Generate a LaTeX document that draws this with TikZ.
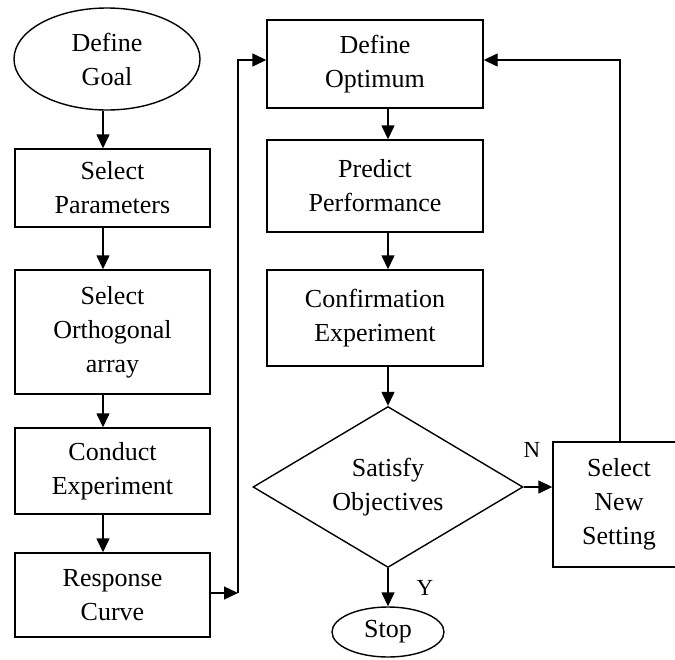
\documentclass[tikz,border=0pt]{standalone}
\usepackage{fontspec}
\setmainfont{Liberation Serif}
\usetikzlibrary{shapes.geometric,arrows.meta,calc}
\begin{document}
\begin{tikzpicture}[x=1pt,y=-1pt,
  every node/.style={font=\fontsize{26}{34}\selectfont, align=center, inner sep=0pt},
  box/.style={draw, line width=1.4pt, rectangle},
  oval/.style={draw, line width=1.4pt, ellipse},
  dec/.style={draw, line width=1.4pt, diamond, aspect=1.68},
  arr/.style={line width=1.4pt, -{Triangle[width=13pt,length=14pt]}},
  lab/.style={font=\fontsize{23}{28}\selectfont}]
\useasboundingbox (0,0) rectangle (675,659);
% left column
\node[oval, minimum width=186pt, minimum height=102pt] (goal) at (107,59) {Define\\Goal};
\node[box, minimum width=195pt, minimum height=78pt] (par) at (112.5,188) {Select\\Parameters};
\node[box, minimum width=195pt, minimum height=124pt] (orth) at (112.5,332) {Select\\Orthogonal\\array};
\node[box, minimum width=195pt, minimum height=86pt] (cond) at (112.5,471) {Conduct\\Experiment};
\node[box, minimum width=195pt, minimum height=84pt] (resp) at (112.5,595) {Response\\Curve};
% middle column
\node[box, minimum width=216pt, minimum height=88pt] (opt) at (375,64) {Define\\Optimum};
\node[box, minimum width=216pt, minimum height=92pt] (pred) at (375,186) {Predict\\Performance};
\node[box, minimum width=216pt, minimum height=96pt] (conf) at (375,318) {Confirmation\\Experiment};
\node[dec, minimum width=270pt, minimum height=161pt] (dia) at (388,487) {Satisfy\\Objectives};
\node[oval, minimum width=112pt, minimum height=50pt] (stop) at (388,632) {Stop};
% right
\node[box, minimum width=132pt, minimum height=125pt] (new) at (619,504.5) {Select\\New\\Setting};
% coordinates
\coordinate (lc) at (103,0);
\coordinate (c1) at (238,593);
\coordinate (c2) at (238,60);
\coordinate (c3) at (620,60);
\coordinate (mc) at (388,0);
% arrows left
\draw[arr] (goal.south -| lc) -- (par.north -| lc);
\draw[arr] (par.south -| lc) -- (orth.north -| lc);
\draw[arr] (orth.south -| lc) -- (cond.north -| lc);
\draw[arr] (cond.south -| lc) -- (resp.north -| lc);
\draw[arr] (resp.east |- c1) -- (c1);
\draw[arr] (c1) -- (c2) -- (c2 -| opt.west);
% arrows middle
\draw[arr] (opt.south -| mc) -- (pred.north -| mc);
\draw[arr] (pred.south -| mc) -- (conf.north -| mc);
\draw[arr] (conf.south -| mc) -- (dia.north);
\draw[arr] (dia.south) -- (stop.north);
\draw[arr] (dia.east) -- (dia.east -| new.west);
\draw[arr] (new.north -| c3) -- (c3) -- (c3 -| opt.east);
% labels
\node[lab] (n) at (532,450) {N};
\node[lab] (y) at (425,588) {Y};
\end{tikzpicture}
\end{document}
